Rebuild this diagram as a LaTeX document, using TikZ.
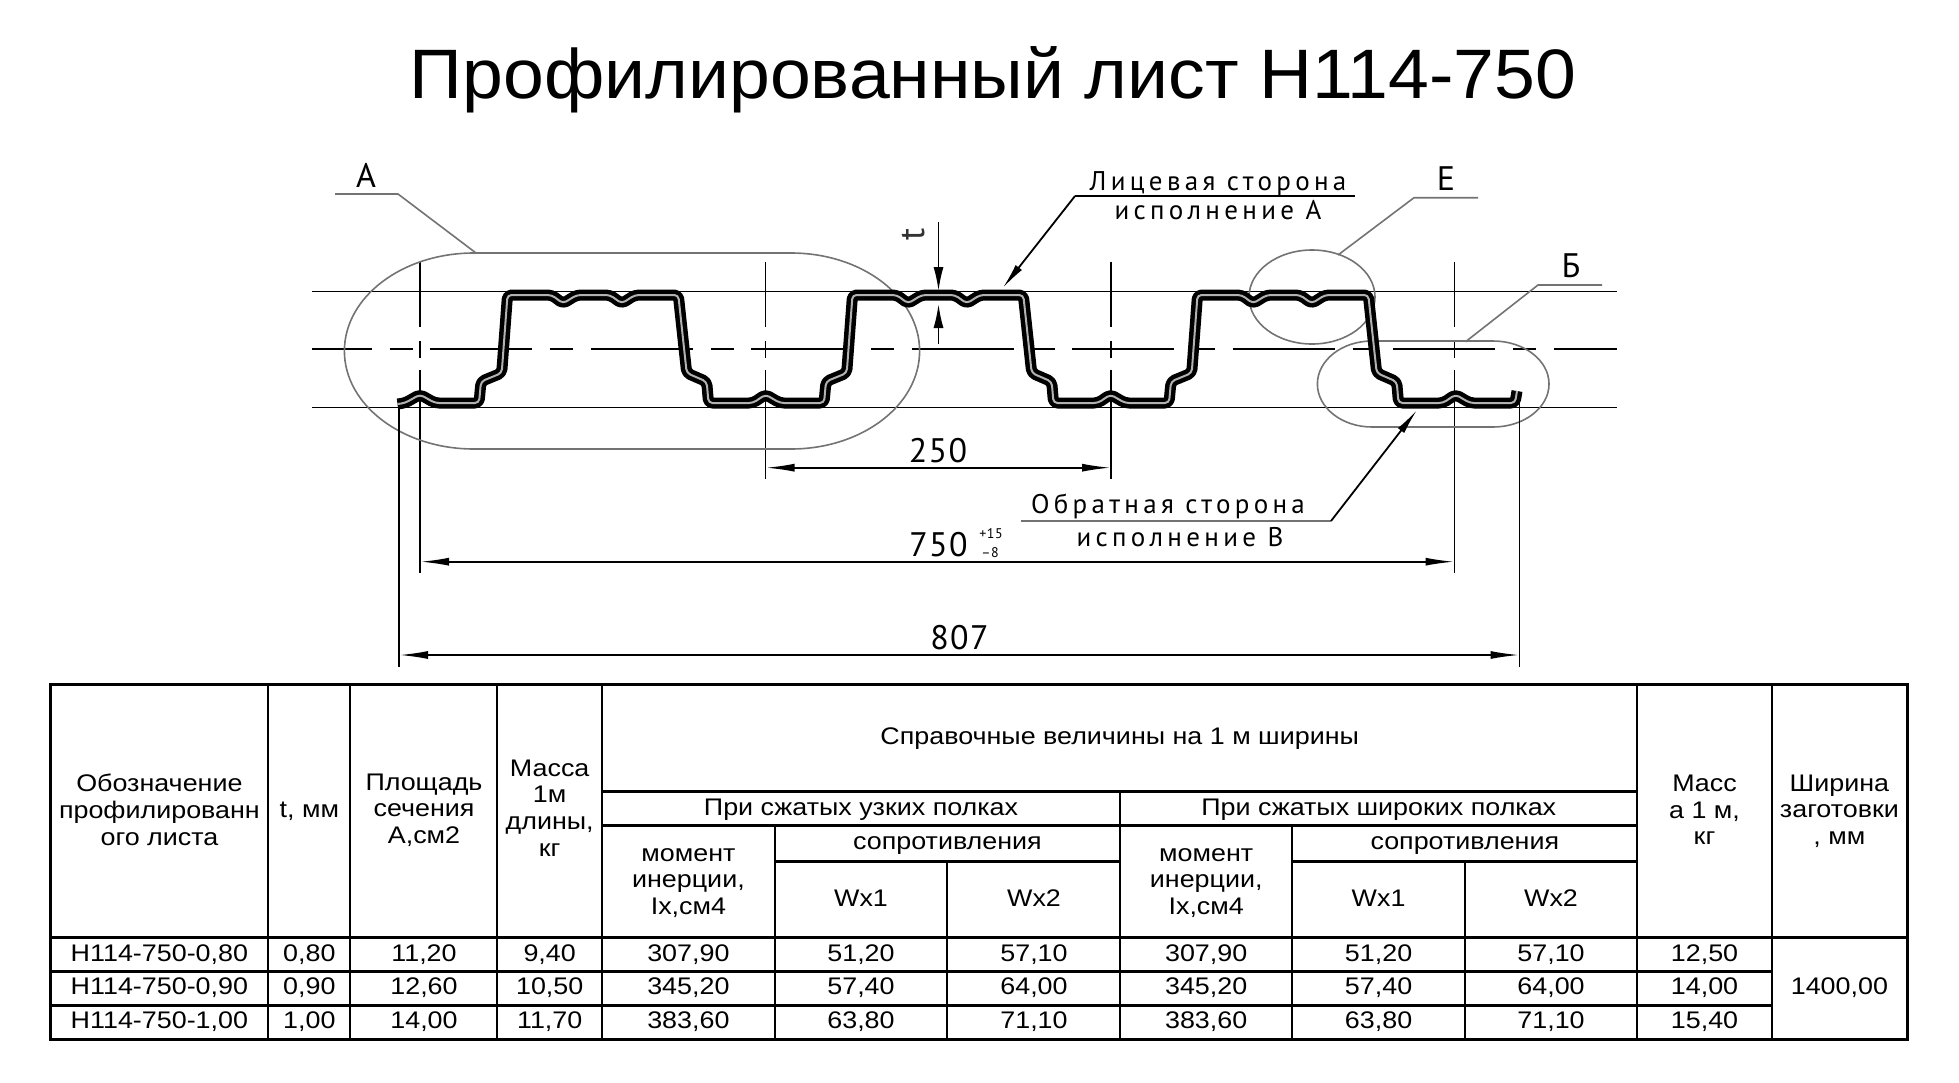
\documentclass[tikz,border=0pt]{standalone}
\usepackage{fontspec}
\setmainfont[FakeStretch=1.12]{Liberation Sans}
\newfontfamily\titlefont[FakeStretch=1.048]{Liberation Sans}
\newfontfamily\cadfont[LetterSpace=16]{PT Sans}
\newfontfamily\cadnumfont[LetterSpace=4]{PT Sans}
\usetikzlibrary{arrows.meta,positioning}

\tikzset{
  cell/.style={font=\fontsize{24}{26.7}\selectfont,align=center,inner sep=0pt},
  cadtext/.style={font=\fontsize{27}{30}\cadfont,inner sep=0pt,anchor=base},
  cadnum/.style={font=\fontsize{34}{38}\cadnumfont,inner sep=0pt,anchor=base},
  cadsmall/.style={font=\fontsize{14}{16}\cadnumfont,inner sep=0pt},
  thin line/.style={line width=1.8pt,black},
  grey line/.style={line width=1.6pt,black!55},
  center line/.style={thin line,dash pattern=on 65pt off 14.5pt on 16.5pt off 12pt on 400pt},
  profile/.style={line width=4.5pt,double=black!30,double distance=2pt,rounded corners=4pt,line join=round},
  frame line/.style={line width=3pt},
  grid line/.style={line width=2pt},
  dim/.style={thin line,{Latex[length=29pt,width=8pt]}-{Latex[length=29pt,width=8pt]}},
  leader/.style={thin line,-{Latex[length=26pt,width=8pt]}}
}

\begin{document}
\begin{tikzpicture}[x=1pt,y=-1pt]
  \useasboundingbox (0,0) rectangle (1959,1082);
  \node[inner sep=0pt,anchor=base,font=\fontsize{70}{80}\titlefont] (title) at (993,98.5) {Профилированный лист Н114-750};

  % guide lines
  \draw[thin line] (312,291.5) -- (1616.5,291.5);
  \draw[thin line] (312,407.5) -- (1616.5,407.5);
  \draw[thin line,dash pattern=on 102pt off 18pt on 23pt off 17.5pt,dash phase=42.5pt] (312,349) -- (1616.5,349);

  % centre lines
  \draw[center line] (420,261.7) -- (420,572.7);
  \draw[center line] (765.5,261.7) -- (765.5,479.3);
  \draw[center line] (1111,261.7) -- (1111,479.3);
  \draw[center line] (1454.5,261.7) -- (1454.5,572.7);

  % outlines
  \draw[grey line] (474,253) -- (791,253) arc[start angle=-90,end angle=90,x radius=128.6,y radius=98]
    -- (474,449) arc[start angle=90,end angle=270,x radius=129.6,y radius=98] -- cycle;
  \draw[grey line] (1312,297) ellipse[x radius=63,y radius=47];
  \draw[grey line] (1372,341) -- (1493,341) arc[start angle=-90,end angle=90,x radius=56,y radius=43]
    -- (1372,427) arc[start angle=90,end angle=270,x radius=54.6,y radius=43] -- cycle;

  % sheet
  \draw[profile] (397.5,404) -- (405,403) -- (420,394.5) -- (435,403)
    \foreach \k in {0,1,2} {
      -- ++(44,0) -- ++(2,-21.5) -- ++(20.7,-8.5) -- ++(5.8,-78) -- ++(44.2,0)
      -- ++(11.3,8.5) -- ++(13.7,-8.5) -- ++(33.3,0) -- ++(11.7,8.5) -- ++(13.3,-8.5)
      -- ++(43.3,0) -- ++(8.4,78) -- ++(20,8.7) -- ++(1.8,21.3) -- ++(44.5,0)
      -- ++(12.5,-8.5) -- ++(14.5,8.5)
    }
    -- (1515,403) -- (1517,391);

  % dimensions
  \coordinate (ext_l) at (399,408);
  \coordinate (ext_r) at (1519.5,397);
  \coordinate (ext_lb) at (399,666.7);
  \coordinate (ext_rb) at (1519.5,666.7);
  \draw[thin line] (ext_l) -- (ext_lb);
  \draw[thin line] (ext_r) -- (ext_rb);
  \draw[dim] (765.5,467.7) -- (1111,467.7);
  \draw[dim] (420,561.7) -- (1454.5,561.7);
  \draw[dim] (399,655) -- (1519.5,655);
  \node[cadnum] (d_250) at (938,462) {250};
  \node[cadnum] (d_750) at (938.5,556) {750};
  \node[cadsmall] (d_plus) at (991,534) {+15};
  \node[cadsmall] (d_minus) at (990,553) {–8};
  \node[cadnum] (d_807) at (959.5,649) {807};

  % thickness
  \coordinate (t_top) at (938.5,221.7);
  \coordinate (t_a) at (938.5,291);
  \coordinate (t_b) at (938.5,304);
  \coordinate (t_bot) at (938.5,344);
  \draw[thin line,-{Latex[length=24pt,width=10pt]}] (t_top) -- (t_a);
  \draw[thin line,-{Latex[length=24pt,width=10pt]}] (t_bot) -- (t_b);
  \node[inner sep=0pt,font=\fontsize{36}{40}\cadnumfont,text=black!80,rotate=90] (t_lab) at (914,234) {t};

  % callouts
  \node[cadnum] (lab_a) at (366,187) {А};
  \coordinate (a_0) at (335,194);
  \coordinate (a_1) at (398,194);
  \coordinate (a_2) at (476,253);
  \draw[grey line] (a_0) -- (a_1) -- (a_2);

  \node[cadnum] (lab_e) at (1446,190) {Е};
  \coordinate (e_0) at (1478,197.7);
  \coordinate (e_1) at (1414,197.7);
  \coordinate (e_2) at (1338,255);
  \draw[grey line] (e_0) -- (e_1) -- (e_2);

  \node[cadnum] (lab_b) at (1571,277) {Б};
  \coordinate (b_0) at (1602,285);
  \coordinate (b_1) at (1538,285);
  \coordinate (b_2) at (1465.6,341.7);
  \draw[grey line] (b_0) -- (b_1) -- (b_2);

  \node[cadtext] (face_1) at (1218,190) {Лицевая сторона};
  \node[cadtext] (face_2) at (1218,219) {исполнение А};
  \coordinate (f_0) at (1355,196);
  \coordinate (f_1) at (1075,196);
  \coordinate (f_2) at (1002.7,288);
  \draw[thin line] (f_0) -- (f_1);
  \draw[leader] (f_1) -- (f_2);

  \node[cadtext] (back_1) at (1168,513) {Обратная сторона};
  \node[cadtext] (back_2) at (1180,546) {исполнение В};
  \coordinate (r_0) at (1021,521);
  \coordinate (r_1) at (1331,521);
  \coordinate (r_2) at (1417,410);
  \draw[grey line] (r_0) -- (r_1);
  \draw[leader] (r_1) -- (r_2);

  % table grid
  \draw[frame line] (50.4,684) rectangle (1907,1039.3);
  \draw[grid line] (268.4,684) -- (268.4,1039.3);
  \draw[grid line] (350.4,684) -- (350.4,1039.3);
  \draw[grid line] (497.4,684) -- (497.4,1039.3);
  \draw[grid line] (602,684) -- (602,1039.3);
  \draw[grid line] (774.7,825.7) -- (774.7,1039.3);
  \draw[grid line] (947.4,861.7) -- (947.4,1039.3);
  \draw[grid line] (1120,791.7) -- (1120,1039.3);
  \draw[grid line] (1292.4,825.7) -- (1292.4,1039.3);
  \draw[grid line] (1464.8,861.7) -- (1464.8,1039.3);
  \draw[grid line] (1637.3,684) -- (1637.3,1039.3);
  \draw[grid line] (1771.8,684) -- (1771.8,1039.3);
  \draw[frame line] (602,791.7) -- (1637.3,791.7);
  \draw[frame line] (602,825.7) -- (1637.3,825.7);
  \draw[frame line] (774.7,861.7) -- (1120,861.7);
  \draw[frame line] (1292.4,861.7) -- (1637.3,861.7);
  \draw[frame line] (50.4,937.7) -- (1907,937.7);
  \draw[frame line] (50.4,971) -- (1771.8,971);
  \draw[frame line] (50.4,1005) -- (1771.8,1005);

  % table head
  \node[cell] (h_name) at (159.4,810) {Обозначение\\профилированн\\ого листа};
  \node[cell] (h_t) at (309.4,811.5) {t, мм};
  \node[cell] (h_area) at (424,810) {Площадь\\сечения\\А,см2};
  \node[cell] (h_mass) at (549.7,808) {Масса\\1м\\длины,\\кг};
  \node[cell] (h_ref) at (1119.7,738.5) {Справочные величины на 1 м ширины};
  \node[cell] (h_narrow) at (861,809.5) {При сжатых узких полках};
  \node[cell] (h_wide) at (1378.7,809.5) {При сжатых широких полках};
  \node[cell] (h_in_1) at (688.4,883) {момент\\инерции,\\Iх,см4};
  \node[cell] (h_res_1) at (947.4,845.5) {сопротивления};
  \node[cell] (h_w1_1) at (861,898.5) {Wx1};
  \node[cell] (h_w2_1) at (1034,898.5) {Wx2};
  \node[cell] (h_in_2) at (1206.2,883) {момент\\инерции,\\Iх,см4};
  \node[cell] (h_res_2) at (1464.8,845.5) {сопротивления};
  \node[cell] (h_w1_2) at (1378.6,898.5) {Wx1};
  \node[cell] (h_w2_2) at (1551,898.5) {Wx2};
  \node[cell] (h_mass2) at (1704.5,810) {Масс\\а 1 м,\\кг};
  \node[cell] (h_width) at (1839.4,811) {Ширина\\заготовки\\, мм};

  % table rows
  \node[cell] (r1_1) at (159.4,954.5) {Н114-750-0,80};
  \node[cell] (r1_2) at (309.4,954.5) {0,80};
  \node[cell] (r1_3) at (424,954.5) {11,20};
  \node[cell] (r1_4) at (549.7,954.5) {9,40};
  \node[cell] (r1_5) at (688.4,954.5) {307,90};
  \node[cell] (r1_6) at (861,954.5) {51,20};
  \node[cell] (r1_7) at (1034,954.5) {57,10};
  \node[cell] (r1_8) at (1206.2,954.5) {307,90};
  \node[cell] (r1_9) at (1378.6,954.5) {51,20};
  \node[cell] (r1_10) at (1551,954.5) {57,10};
  \node[cell] (r1_11) at (1704.5,954.5) {12,50};

  \node[cell] (r2_1) at (159.4,988) {Н114-750-0,90};
  \node[cell] (r2_2) at (309.4,988) {0,90};
  \node[cell] (r2_3) at (424,988) {12,60};
  \node[cell] (r2_4) at (549.7,988) {10,50};
  \node[cell] (r2_5) at (688.4,988) {345,20};
  \node[cell] (r2_6) at (861,988) {57,40};
  \node[cell] (r2_7) at (1034,988) {64,00};
  \node[cell] (r2_8) at (1206.2,988) {345,20};
  \node[cell] (r2_9) at (1378.6,988) {57,40};
  \node[cell] (r2_10) at (1551,988) {64,00};
  \node[cell] (r2_11) at (1704.5,988) {14,00};
  \node[cell] (r2_12) at (1839.4,988) {1400,00};

  \node[cell] (r3_1) at (159.4,1022) {Н114-750-1,00};
  \node[cell] (r3_2) at (309.4,1022) {1,00};
  \node[cell] (r3_3) at (424,1022) {14,00};
  \node[cell] (r3_4) at (549.7,1022) {11,70};
  \node[cell] (r3_5) at (688.4,1022) {383,60};
  \node[cell] (r3_6) at (861,1022) {63,80};
  \node[cell] (r3_7) at (1034,1022) {71,10};
  \node[cell] (r3_8) at (1206.2,1022) {383,60};
  \node[cell] (r3_9) at (1378.6,1022) {63,80};
  \node[cell] (r3_10) at (1551,1022) {71,10};
  \node[cell] (r3_11) at (1704.5,1022) {15,40};
\end{tikzpicture}
\end{document}
